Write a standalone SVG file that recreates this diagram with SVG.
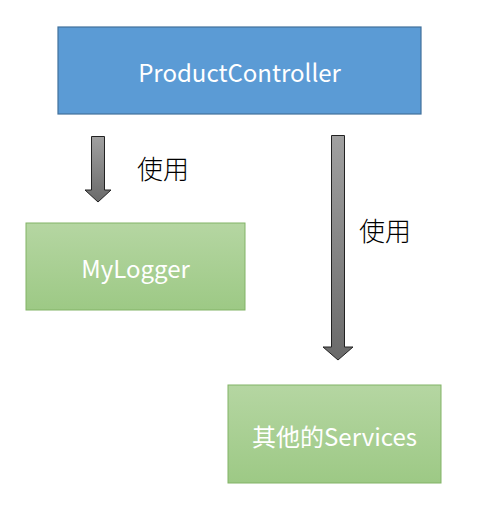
<svg xmlns="http://www.w3.org/2000/svg" width="490" height="522" viewBox="0 0 490 522">
<defs>
<linearGradient id="g" x1="0" y1="0" x2="0" y2="1"><stop offset="0" stop-color="#b5d6a2"/><stop offset="1" stop-color="#9dc985"/></linearGradient>
<linearGradient id="a" x1="0" y1="0" x2="0" y2="1"><stop offset="0" stop-color="#a0a0a0"/><stop offset="1" stop-color="#6a6a6a"/></linearGradient>
</defs>
<style>
.lbl{font-family:"Noto Sans CJK SC","Open Sans",sans-serif;font-size:24px;fill:#ffffff;text-anchor:middle;dominant-baseline:central}
.cap{font-family:"Noto Sans CJK SC",sans-serif;font-size:26px;font-weight:300;fill:#000000;dominant-baseline:central}
.green{fill:url(#g);stroke:#82b366;stroke-width:1}
.arr{fill:url(#a);stroke:#222;stroke-width:1}
</style>
<g id="productcontroller">
<rect x="58" y="27" width="363" height="87" fill="#5b9bd5" stroke="#41719c" stroke-width="1.2"/>
<text class="lbl" x="239.5" y="71">ProductController</text>
</g>
<g id="mylogger">
<rect class="green" x="26" y="223" width="219" height="87"/>
<text class="lbl" x="135.5" y="267">MyLogger</text>
</g>
<g id="services">
<rect class="green" x="228" y="385" width="213" height="98"/>
<text class="lbl" x="334.5" y="435">其他的Services</text>
</g>
<g id="connectors">
<polygon class="arr" points="91.5,136.5 104.5,136.5 104.5,190 111,190 98,202 85,190 91.5,190"/>
<polygon class="arr" points="331.5,135.5 344.5,135.5 344.5,347 353,347 338,360 323,347 331.5,347"/>
<text class="cap" x="137" y="167">使用</text>
<text class="cap" x="359" y="229">使用</text>
</g>
</svg>
